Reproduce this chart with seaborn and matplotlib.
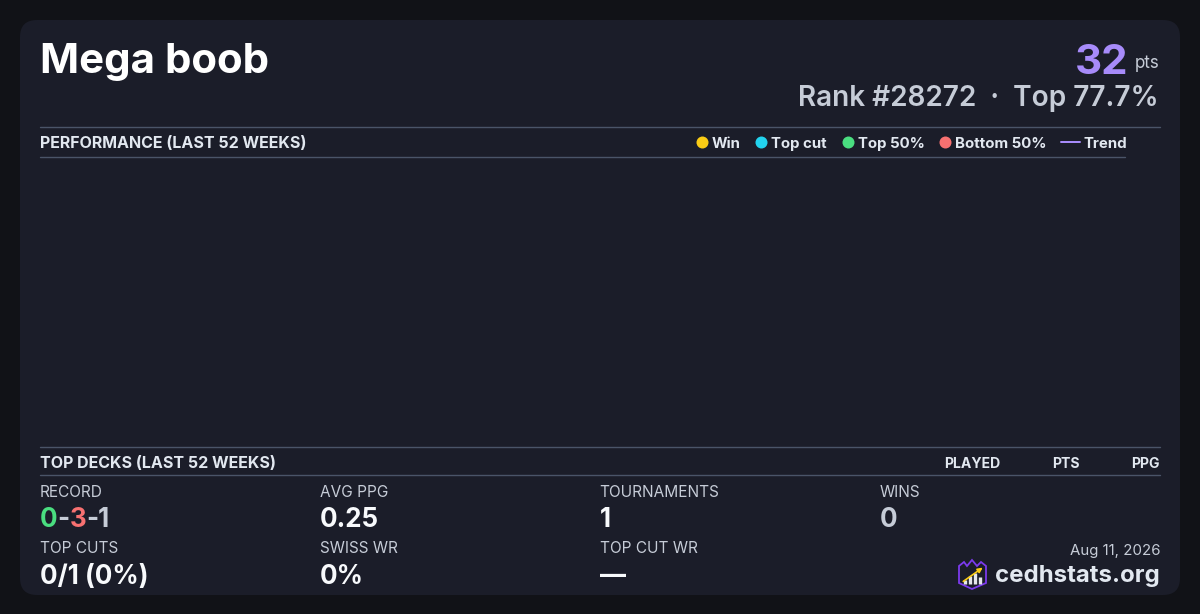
import numpy as np
import pandas as pd
import seaborn as sns
import matplotlib.pyplot as plt
from matplotlib.patches import FancyBboxPatch, Polygon

# player card data
player = "Mega boob"
points_total = 32
rank = 28272
top_pct = 77.7
report_date = "Aug 11, 2026"

# performance over the last 52 weeks (no results to plot)
perf_weeks = []
perf_points = []
perf_result = []
trend_points = []

legend_labels = ["Win", "Top cut", "Top 50%", "Bottom 50%"]
legend_colors = ["#facc15", "#22d3ee", "#4ade80", "#f87171"]
trend_color = "#a78bfa"

deck_cols = ["PLAYED", "PTS", "PPG"]

record = [0, 3, 1]
stat_labels = ["RECORD", "AVG PPG", "TOURNAMENTS", "WINS",
               "TOP CUTS", "SWISS WR", "TOP CUT WR"]
stat_values = [None, "0.25", "1", "0", "0/1 (0%)", "0%", "\u2014"]

BG = "#111217"
CARD = "#1b1d29"
RULE = "#4a5468"
HEAD = "#e2e8f0"
SUB = "#c6ccd7"
WHITE = "#f8fafc"

sns.set_theme(style="dark")
plt.rcParams["font.family"] = ["Inter", "DejaVu Sans"]

W, H = 1200, 614
fig = plt.figure(figsize=(W / 100, H / 100), dpi=100, facecolor=BG)
ax = fig.add_axes([0, 0, 1, 1])
ax.set_xlim(0, W)
ax.set_ylim(H, 0)
ax.axis("off")
ax.set_facecolor(BG)

ax.add_patch(FancyBboxPatch((20, 20), 1160, 575,
                            boxstyle="round,pad=0,rounding_size=17",
                            fc=CARD, ec="none"))

px = 0.72  # px -> pt at 100 dpi
renderer = fig.canvas.get_renderer()


def width(t):
    return t.get_window_extent(renderer).width


# header
ax.text(40, 73, player, fontsize=42 * px, fontweight="bold", color="white",
        va="baseline", ha="left")
t_pts = ax.text(1159, 68, "pts", fontsize=17 * px, color=SUB,
                va="baseline", ha="right")
ax.text(1159 - width(t_pts) - 6, 74, str(points_total), fontsize=42 * px,
        fontweight="bold", color=trend_color, va="baseline", ha="right")
ax.text(1159, 106, f"Rank #{rank}  \u00b7  Top {top_pct}%", fontsize=28 * px,
        fontweight="semibold", color=SUB, va="baseline", ha="right")

# performance section
ax.plot([40, 1160], [126.5, 126.5], color=RULE, lw=1)
ax.plot([40, 1125], [156.5, 156.5], color=RULE, lw=1)
ax.text(40, 148, "PERFORMANCE (LAST 52 WEEKS)", fontsize=16 * px,
        fontweight="bold", color=HEAD, va="baseline")

x = 696
for lab, col in zip(legend_labels, legend_colors):
    ax.plot(x + 6, 141.5, "o", ms=12 * px, color=col, mec="none")
    t = ax.text(x + 16, 148, lab, fontsize=15 * px, fontweight="bold",
                color=HEAD, va="baseline")
    x = x + 16 + width(t) + 14.5
ax.plot([x, x + 19], [141.5, 141.5], color=trend_color, lw=2 * px)
ax.text(x + 23, 148, "Trend", fontsize=15 * px, fontweight="bold",
        color=HEAD, va="baseline")

perf = pd.DataFrame({"week": perf_weeks, "points": perf_points,
                     "result": perf_result})
ax_perf = fig.add_axes([40 / W, (H - 446) / H, 1085 / W, 290 / H])
ax_perf.patch.set_alpha(0)
sns.scatterplot(data=perf, x="week", y="points", ax=ax_perf, legend=False)
sns.lineplot(x=perf_weeks, y=trend_points, ax=ax_perf, color=trend_color)
ax_perf.set_axis_off()

# top decks section
ax.plot([40, 1160], [446.5, 446.5], color=RULE, lw=1)
ax.plot([40, 1160], [474.5, 474.5], color=RULE, lw=1)
ax.text(40, 468, "TOP DECKS (LAST 52 WEEKS)", fontsize=16 * px,
        fontweight="bold", color=HEAD, va="baseline")
for lab, xr in zip(deck_cols, [1000, 1080, 1160]):
    ax.text(xr, 468, lab, fontsize=14 * px, fontweight="bold", color=HEAD,
            va="baseline", ha="right")

# stats grid
col_x = [40, 320, 600, 880]
for i, (lab, val) in enumerate(zip(stat_labels, stat_values)):
    cx = col_x[i % 4]
    row = i // 4
    ax.text(cx - 0.5, 497 + row * 56, lab, fontsize=15.4 * px, color=SUB,
            va="baseline")
    if val is None:
        continue
    ax.text(cx, 527 + row * 57, val, fontsize=26 * px, fontweight="bold",
            color=SUB if lab == "WINS" else WHITE, va="baseline")

# win-loss-draw record
xr = 40
for piece, col in zip([str(record[0]), "-", str(record[1]), f"-{record[2]}"],
                      ["#4ade80", SUB, "#f87171", SUB]):
    t = ax.text(xr, 527, piece, fontsize=26 * px, fontweight="bold",
                color=col, va="baseline")
    xr += width(t)

# footer
ax.text(1160, 555, report_date, fontsize=15 * px, color=SUB,
        va="baseline", ha="right")
ax.text(1160, 582, "cedhstats.org", fontsize=24 * px, fontweight="bold",
        color=HEAD, va="baseline", ha="right")

# small logo
shield = [(959, 566), (964, 562), (967, 566), (972, 560), (977, 566),
          (981, 562), (986, 566), (986, 583), (972, 589), (959, 583)]
ax.add_patch(Polygon(shield, closed=True, fc=CARD, ec="#7c3aed", lw=1.3))
for bx, top in zip([964.5, 969.5, 974.5, 979.5], [580, 576, 573, 577]):
    ax.plot([bx, bx], [584, top], color="#e5e7eb", lw=2.4,
            solid_capstyle="butt")
ax.annotate("", xy=(985, 566), xytext=(961, 583),
            arrowprops=dict(arrowstyle="-|>", color="#facc15", lw=1.2,
                            mutation_scale=7))

fig.savefig("out.png", dpi=100, facecolor=BG)
